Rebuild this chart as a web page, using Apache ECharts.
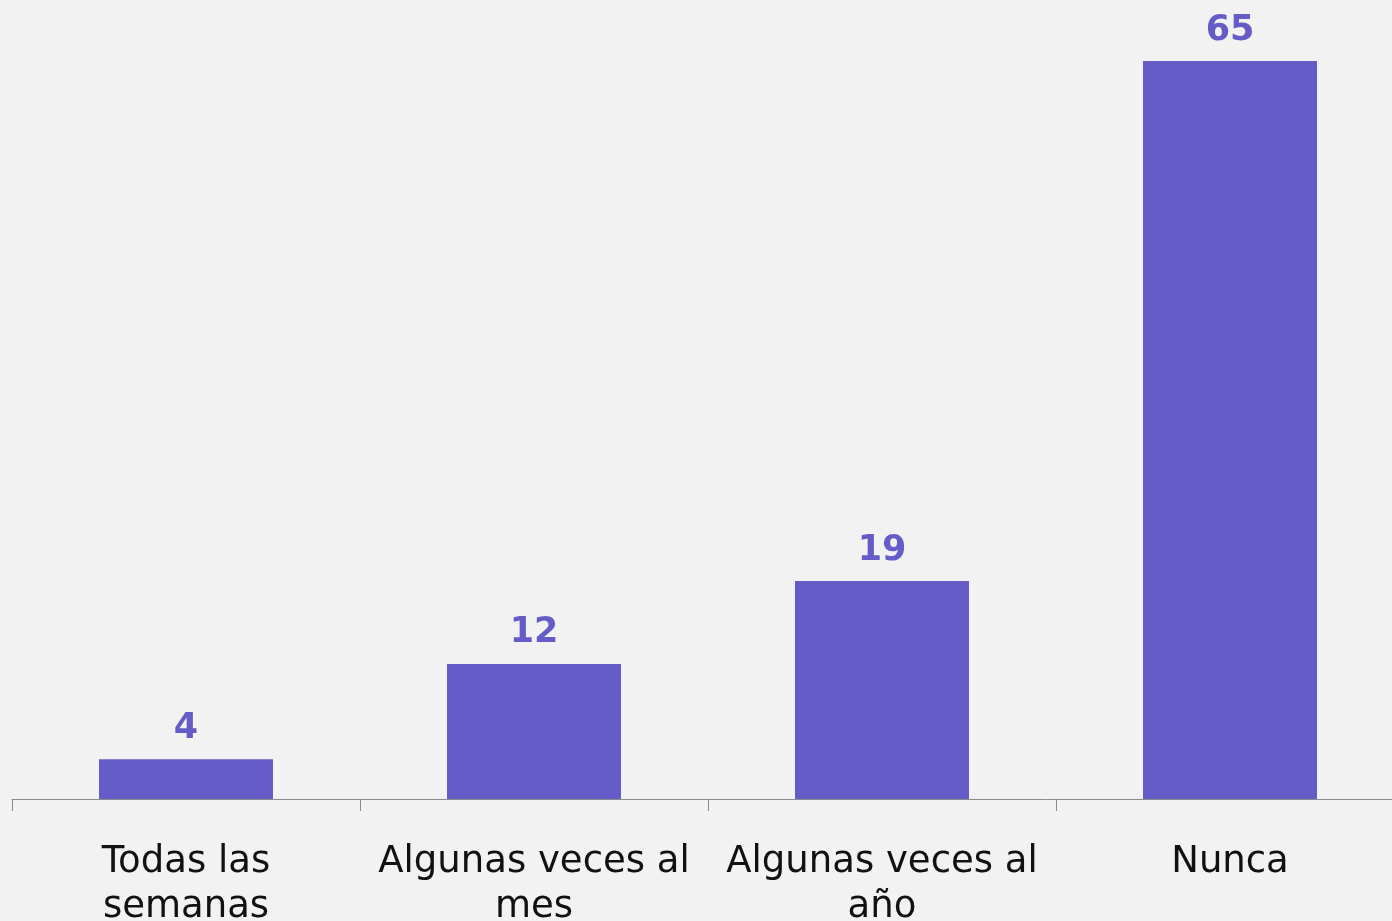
<!DOCTYPE html>
<html>
<head>
<meta charset="utf-8">
<script src="https://cdn.jsdelivr.net/npm/echarts@6/dist/echarts.min.js"></script>
<style>
html,body{margin:0;padding:0;background:#f2f2f2;}
#chart{width:1392px;height:921px;}
</style>
</head>
<body>
<div id="chart"></div>
<script>
var categories = ['Todas las\nsemanas', 'Algunas veces al\nmes', 'Algunas veces al\naño', 'Nunca'];
var values = [3.5, 11.9, 19.2, 65];

var chart = echarts.init(document.getElementById('chart'));
chart.setOption({
  backgroundColor: '#f2f2f2',
  animation: false,
  grid: {left: 12, top: 61, width: 1392, height: 738, containLabel: false, outerBoundsMode: 'none'},
  xAxis: {
    type: 'category',
    data: categories,
    axisLine: {lineStyle: {color: '#8c8c8c', width: 1}},
    axisTick: {show: true, length: 12, lineStyle: {color: '#8c8c8c'}},
    axisLabel: {
      interval: 0,
      margin: 41,
      color: '#111111',
      fontFamily: '"DejaVu Sans", sans-serif',
      fontSize: 37,
      lineHeight: 45
    }
  },
  yAxis: {
    type: 'value',
    min: 0,
    max: 65,
    show: false,
    splitLine: {show: false}
  },
  series: [{
    type: 'bar',
    data: values,
    barWidth: '50%',
    itemStyle: {color: '#665cc7'},
    label: {
      show: true,
      position: 'top',
      distance: 13,
      color: '#665cc7',
      fontFamily: '"DejaVu Sans", sans-serif',
      fontWeight: 'bold',
      fontSize: 35,
      lineHeight: 35,
      formatter: function (p) { return Math.round(p.value); }
    }
  }]
});
</script>
</body>
</html>
